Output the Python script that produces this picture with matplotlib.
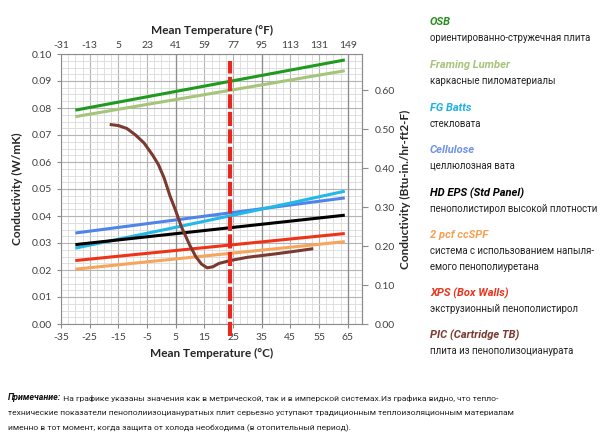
import matplotlib
matplotlib.use("Agg")
import matplotlib.pyplot as plt
import numpy as np
from matplotlib.ticker import FormatStrFormatter

plt.rcParams["axes.unicode_minus"] = False

# ---------------- data ----------------
temp_c_lin = [-30, 64]
osb = [0.0792, 0.0978]
framing = [0.0768, 0.0938]
cellulose = [0.0337, 0.0467]
hd_eps = [0.0294, 0.0403]
xps = [0.0235, 0.0335]
ccspf = [0.0203, 0.0305]
fg_temp = [-30, 5, 25, 45, 64]
fg_batts = [0.0281, 0.0358, 0.0403, 0.0448, 0.0492]
pic_temp = [-18, -15, -12, -9, -6, -3, -1, 1, 3, 5, 7, 10, 12, 14, 16, 18, 20, 24, 30, 40, 47, 53]
pic = [0.0739, 0.0735, 0.0724, 0.0700, 0.0670, 0.0625, 0.0590, 0.0540, 0.0475, 0.0420,
       0.0360, 0.0290, 0.0250, 0.0222, 0.0208, 0.0212, 0.0224, 0.0235, 0.0247, 0.0260,
       0.0270, 0.0279]
marker_temp = 24
marker_range = [-0.0045, 0.0975]
x_ticks_c = list(range(-35, 66, 10))
x_ticks_f = list(range(-31, 150, 18))
y_ticks = [0.00, 0.01, 0.02, 0.03, 0.04, 0.05, 0.06, 0.07, 0.08, 0.09, 0.10]
y2_ticks = [0.0, 0.1, 0.2, 0.3, 0.4, 0.5, 0.6]
SI_TO_IMP = 6.933

legend_items = [
    ("OSB", ["ориентированно-стружечная плита"], "#2a8c1c"),
    ("Framing Lumber", ["каркасные пиломатериалы"], "#a6c47a"),
    ("FG Batts", ["стекловата"], "#1fb2e4"),
    ("Cellulose", ["целлюлозная вата"], "#6f93e8"),
    ("HD EPS (Std Panel)", ["пенополистирол высокой плотности"], "#000000"),
    ("2 pcf ccSPF", ["система с использованием напыля-", "емого пенополиуретана"], "#f5a052"),
    ("XPS (Box Walls)", ["экструзионный пенополистирол"], "#e8341c"),
    ("PIC (Cartridge TB)", ["плита из пенополизоцианурата"], "#7a3a30"),
]
note_head = "Примечание:"
note_lines = [
    " На графике указаны значения как в метрической, так и в имперской системах.Из графика видно, что тепло-",
    "технические показатели пенополиизоциануратных плит серьезно уступают традиционным теплоизоляционным материалам",
    "именно в тот момент, когда защита от холода необходима (в отопительный период).",
]

# ---------------- figure ----------------
W, H = 600, 443
fig = plt.figure(figsize=(W / 100, H / 100), dpi=100)
ax = fig.add_axes([61 / W, 1 - 324 / H, (362 - 61) / W, (324 - 54) / H])
ax.set_xlim(-35, 70)
ax.set_ylim(0, 0.1)

lab_font = dict(family=["Lato", "DejaVu Sans"], size=8.5, weight="bold", color="#262626")

# grid
ax.set_xticks(x_ticks_c)
ax.set_xticks(np.arange(-35, 70.1, 2.5), minor=True)
ax.set_yticks(y_ticks)
ax.set_yticks(np.arange(0, 0.1001, 0.0025), minor=True)
ax.grid(which="minor", color="#dadada", lw=0.6)
ax.grid(which="major", color="#b4b4b4", lw=0.8)
for xv in [5, 35, 65]:
    ax.axvline(xv, color="#8c8c8c", lw=0.9, zorder=0.6)
ax.set_axisbelow(True)
ax.tick_params(which="minor", length=0)
ax.tick_params(which="major", length=3, color="#8c8c8c", labelsize=7.5, labelcolor="#404040")
ax.yaxis.set_major_formatter(FormatStrFormatter("%.2f"))
for lbl in ax.get_xticklabels() + ax.get_yticklabels():
    lbl.set_family(["Lato", "DejaVu Sans"])
for s in ax.spines.values():
    s.set_color("#8c8c8c")
    s.set_linewidth(0.8)

lw = 2.2
ax.plot(temp_c_lin, osb, color="#1f9a1f", lw=lw, solid_capstyle="butt")
ax.plot(temp_c_lin, framing, color="#a6c47a", lw=lw, solid_capstyle="butt")
ax.plot(temp_c_lin, cellulose, color="#4f84ea", lw=lw, solid_capstyle="butt")
ax.plot(fg_temp, fg_batts, color="#22b8e8", lw=lw, solid_capstyle="butt")
ax.plot(temp_c_lin, hd_eps, color="#000000", lw=lw, solid_capstyle="butt")
ax.plot(temp_c_lin, xps, color="#ee3318", lw=lw, solid_capstyle="butt")
ax.plot(temp_c_lin, ccspf, color="#f6a55c", lw=lw, solid_capstyle="butt")
ax.plot(pic_temp, pic, color="#7a3a30", lw=lw, solid_capstyle="butt")
ax.plot([marker_temp, marker_temp], marker_range, color="#e8281e", lw=3.0,
        linestyle=(0, (3.4, 0.8)), clip_on=False, zorder=5)

ax.set_xlabel("Mean Temperature (°C)", labelpad=4, **lab_font)
ax.set_ylabel("Conductivity (W/mK)", labelpad=6, **lab_font)

# top axis (°F)
topax = ax.secondary_xaxis("top", functions=(lambda c: c * 9 / 5 + 32, lambda f: (f - 32) * 5 / 9))
topax.set_xticks(x_ticks_f)
topax.tick_params(length=0, labelsize=7.5, labelcolor="#404040", pad=3)
for lbl in topax.get_xticklabels():
    lbl.set_family(["Lato", "DejaVu Sans"])
topax.set_xlabel("Mean Temperature (°F)", labelpad=5, **lab_font)
topax.spines["top"].set_visible(False)

# right axis (imperial)
rax = ax.secondary_yaxis("right", functions=(lambda y: y * SI_TO_IMP, lambda y: y / SI_TO_IMP))
rax.set_yticks(y2_ticks)
rax.yaxis.set_major_formatter(FormatStrFormatter("%.2f"))
rax.tick_params(length=4, color="#8c8c8c", labelsize=7.5, labelcolor="#404040", pad=5)
for lbl in rax.get_yticklabels():
    lbl.set_family(["Lato", "DejaVu Sans"])
rax.spines["right"].set_color("#8c8c8c")
rax.set_ylabel("Conductivity (Btu-in./hr-ft2-F)", labelpad=4, **lab_font)

# legend-like annotations on the right
head_y = [22, 65, 108, 150, 193, 235, 293, 335]
cyr = ["Roboto", "DejaVu Sans"]
for (head, body, col), yh in zip(legend_items, head_y):
    fig.text(430 / W, 1 - yh / H, head, family=cyr, size=8, weight="bold", style="italic",
             color=col, va="center", ha="left")
    for i, line in enumerate(body):
        fig.text(430 / W, 1 - (yh + 16 + 16 * i) / H, line, family=cyr, size=6.9,
                 color="#222222", va="center", ha="left")

# note at the bottom
note_size = 6.1
t0 = fig.text(8 / W, 1 - 398 / H, note_head, family=cyr, size=note_size + 0.3, weight="bold",
              style="italic", color="#111111", va="center", ha="left")
fig.canvas.draw()
plt.annotate(note_lines[0], xy=(1, 0.5), xycoords=t0, va="center", ha="left",
             family=cyr, size=note_size, color="#222222", annotation_clip=False)
for i, line in enumerate(note_lines[1:]):
    fig.text(8 / W, 1 - (413 + 15 * i) / H, line, family=cyr, size=note_size, color="#222222",
             va="center", ha="left")

fig.savefig("out.png", dpi=100)
